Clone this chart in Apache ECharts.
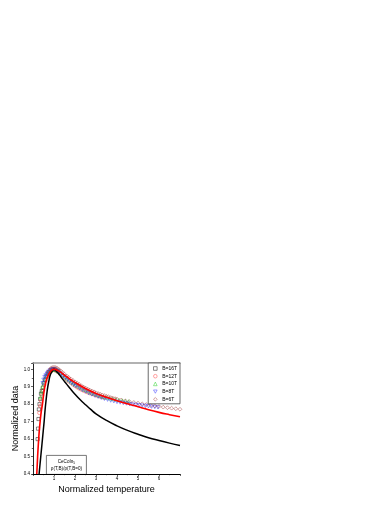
<!DOCTYPE html>
<html><head><meta charset="utf-8">
<script src="https://cdn.jsdelivr.net/npm/echarts@6/dist/echarts.min.js"></script>
<style>html,body{margin:0;padding:0;background:#fff}#c{width:390px;height:505px}</style>
</head><body><div id="c"></div>
<script>
var seriesNames = ['B=16T','B=12T','B=10T','B=8T','B=6T'];
var xTickLabels = ['1','2','3','4','5','6'];
var yTickLabels = ['0.4','0.5','0.6','0.7','0.8','0.9','1.0'];

var b16 = [[0.22,0.60],[0.24,0.66],[0.26,0.715],[0.28,0.77],[0.31,0.80],[0.34,0.83],[0.38,0.86],[0.42,0.875],[0.47,0.895],[0.52,0.92],[0.58,0.94],[0.64,0.96],[0.71,0.975],[0.78,0.985],[0.86,0.995],[0.94,1.0],[1.02,1.0],[1.1,0.995],[1.2,0.99]];
var b12 = [[0.30,0.75],[0.34,0.79],[0.38,0.82],[0.43,0.85],[0.48,0.88],[0.54,0.91],[0.60,0.935],[0.67,0.955],[0.74,0.97],[0.82,0.985],[0.90,0.993],[0.98,0.997],[1.06,0.995],[1.14,0.99],[1.22,0.982],[1.30,0.973],[1.40,0.962],[1.50,0.952],[1.60,0.942],[1.70,0.932],[1.80,0.922],[1.90,0.913],[2.0,0.905],[2.1,0.897],[2.2,0.89],[2.3,0.884],[2.4,0.878],[2.5,0.873],[2.6,0.868],[2.7,0.863],[2.8,0.859],[2.9,0.855],[3.0,0.851],[3.1,0.847],[3.2,0.844],[3.3,0.84],[3.4,0.837]];
var b10 = [[0.36,0.84],[0.40,0.87],[0.45,0.90],[0.50,0.925],[0.56,0.945],[0.62,0.96],[0.69,0.975],[0.76,0.985],[0.84,0.993],[0.92,0.998],[1.0,1.0],[1.1,0.995],[1.2,0.987],[1.3,0.978],[1.4,0.968],[1.5,0.958],[1.6,0.948],[1.7,0.939],[1.8,0.93],[1.9,0.921],[2.0,0.913],[2.15,0.902],[2.3,0.892],[2.45,0.883],[2.6,0.875],[2.75,0.867],[2.9,0.86],[3.05,0.853],[3.2,0.847],[3.35,0.842],[3.5,0.838],[3.65,0.834],[3.8,0.83],[3.95,0.827],[4.1,0.824],[4.25,0.821],[4.4,0.818],[4.55,0.816]];
var b8 = [[0.46,0.92],[0.50,0.94],[0.55,0.955],[0.60,0.965],[0.66,0.975],[0.72,0.985],[0.80,0.993],[0.88,0.998],[0.96,1.0],[1.05,0.998],[1.15,0.99],[1.25,0.98],[1.35,0.97],[1.45,0.96],[1.55,0.95],[1.65,0.94],[1.75,0.93],[1.85,0.921],[1.95,0.912],[2.05,0.904],[2.2,0.893],[2.35,0.882],[2.5,0.873],[2.65,0.864],[2.8,0.856],[2.95,0.849],[3.1,0.843],[3.25,0.837],[3.4,0.831],[3.55,0.826],[3.7,0.821],[3.85,0.817],[4.0,0.813],[4.15,0.81],[4.3,0.807],[4.45,0.804],[4.6,0.801],[4.75,0.798],[4.9,0.796],[5.05,0.794],[5.2,0.792],[5.35,0.79],[5.5,0.788],[5.65,0.786],[5.8,0.784],[5.95,0.782]];
var b6 = [[0.72,0.985],[0.78,0.995],[0.85,1.005],[0.92,1.01],[1.0,1.012],[1.08,1.01],[1.16,1.005],[1.24,0.998],[1.32,0.99],[1.4,0.982],[1.5,0.972],[1.6,0.962],[1.7,0.953],[1.8,0.944],[1.9,0.936],[2.0,0.928],[2.1,0.92],[2.2,0.913],[2.3,0.906],[2.4,0.899],[2.5,0.893],[2.6,0.887],[2.7,0.881],[2.8,0.876],[2.9,0.871],[3.0,0.866],[3.1,0.861],[3.2,0.857],[3.3,0.853],[3.4,0.849],[3.5,0.845],[3.6,0.842],[3.7,0.838],[3.8,0.835],[3.9,0.832],[4.0,0.829],[4.2,0.824],[4.4,0.819],[4.6,0.814],[4.8,0.81],[5.0,0.806],[5.2,0.802],[5.4,0.798],[5.6,0.794],[5.8,0.79],[6.0,0.787],[6.2,0.783],[6.4,0.78],[6.6,0.777],[6.8,0.774],[7.0,0.771]];
var blackCurve = [[0.29,0.40],[0.33,0.45],[0.37,0.50],[0.41,0.55],[0.45,0.60],[0.49,0.65],[0.53,0.70],[0.57,0.76],[0.62,0.82],[0.68,0.88],[0.75,0.93],[0.83,0.97],[0.92,0.99],[1.0,1.0],[1.1,0.99],[1.25,0.97],[1.4,0.945],[1.6,0.915],[1.8,0.885],[2.0,0.857],[2.25,0.825],[2.5,0.797],[2.75,0.77],[3.0,0.745],[3.5,0.707],[4.0,0.676],[4.5,0.65],[5.0,0.628],[5.5,0.608],[6.0,0.592],[6.5,0.577],[7.0,0.563]];
var redCurve = [[0.18,0.40],[0.22,0.50],[0.26,0.58],[0.30,0.65],[0.34,0.70],[0.39,0.755],[0.45,0.80],[0.50,0.85],[0.55,0.89],[0.62,0.93],[0.70,0.96],[0.80,0.982],[0.90,0.995],[1.0,1.0],[1.15,0.995],[1.3,0.985],[1.5,0.967],[1.75,0.945],[2.0,0.925],[2.5,0.89],[3.0,0.862],[3.5,0.84],[4.0,0.82],[4.5,0.802],[5.0,0.785],[5.5,0.768],[6.0,0.753],[6.5,0.74],[7.0,0.728]];

var colors = ['#000000','#FF4040','#20D020','#3030FF','#A03838'];
var symbols = ['rect','circle','triangle','path://M0,0 L10,0 L5,9 Z','diamond'];
var sizes = [3.2,3.4,3.4,3.4,3.8];
var datasets = [b16,b12,b10,b8,b6];

var series = datasets.map(function(d,i){
  return {name: seriesNames[i], type:'scatter', data:d, symbol:symbols[i],
    symbolSize: sizes[i], itemStyle:{color:'rgba(255,255,255,0)', borderColor:colors[i], borderWidth:0.6}, z:2, silent:true};
});
series.push({name:'fitBlack', type:'line', data:blackCurve, smooth:true, symbol:'none', lineStyle:{color:'#000', width:1.5}, z:5});
series.push({name:'fitRed', type:'line', data:redCurve, smooth:true, symbol:'none', lineStyle:{color:'#FF0000', width:1.6}, z:6});

var chart = echarts.init(document.getElementById('c'), null, {renderer:'canvas'});
chart.setOption({
  animation:false,
  backgroundColor:'#fff',
  grid:{left:33, right:210, top:363, bottom:31, show:false},
  legend:{
    data: seriesNames.map(function(n,i){return {name:n, itemStyle:{color:'rgba(255,255,255,0)', borderColor:colors[i], borderWidth:0.6}};}),
    orient:'vertical', right:210, top:363, itemWidth:3.6, itemHeight:3.6, itemGap:2.7,
    padding:[3,3,2,5], borderColor:'#444', borderWidth:0.8, backgroundColor:'#fff',
    textStyle:{fontSize:5, fontFamily:'Liberation Sans, Arial', color:'#000', padding:[0,0,0,0]},
    selectedMode:false
  },
  xAxis:[{
    type:'value', min:0, max:7, interval:1,
    name:'Normalized temperature', nameLocation:'middle', nameGap:11,
    nameTextStyle:{fontSize:9, fontFamily:'Liberation Sans, Arial', color:'#000'},
    axisLine:{lineStyle:{color:'#000', width:1}},
    axisTick:{length:2, lineStyle:{color:'#000', width:0.6}},
    minorTick:{show:true, splitNumber:2, length:1.2, lineStyle:{color:'#000', width:0.6}},
    axisLabel:{fontSize:4.5, margin:2.5, color:'#000', fontFamily:'Liberation Sans, Arial',
      formatter:function(v){var s=String(Math.round(v)); return xTickLabels.indexOf(s)>=0 && Math.abs(v-Math.round(v))<1e-6 ? s : '';}},
    splitLine:{show:false}
  },{
    type:'value', min:0, max:7, position:'top',
    axisLine:{show:true, lineStyle:{color:'#999', width:1.6}}, axisTick:{show:false}, axisLabel:{show:false}, splitLine:{show:false}
  }],
  yAxis:[{
    type:'value', min:0.4, max:1.036, interval:0.1,
    name:'Normalized data', nameLocation:'middle', nameGap:13,
    nameTextStyle:{fontSize:9, fontFamily:'Liberation Sans, Arial', color:'#000'},
    axisLine:{show:true, lineStyle:{color:'#000', width:1}},
    axisTick:{show:true, length:2, lineStyle:{color:'#000', width:0.6}},
    minorTick:{show:true, splitNumber:2, length:1.2, lineStyle:{color:'#000', width:0.6}},
    axisLabel:{fontSize:4.5, margin:3, color:'#000', fontFamily:'Liberation Sans, Arial',
      formatter:function(v){var s=v.toFixed(1); return (Math.abs(v*10-Math.round(v*10))<1e-6 && yTickLabels.indexOf(s)>=0) ? s : '';}},
    splitLine:{show:false}
  },{
    type:'value', min:0.4, max:1.036, position:'right',
    axisLine:{show:true, lineStyle:{color:'#222', width:1}}, axisTick:{show:false}, axisLabel:{show:false}, splitLine:{show:false}
  }],
  series: series,
  graphic:[{
    type:'group', left:46, top:455, children:[
      {type:'rect', shape:{x:0,y:0,width:40,height:19}, style:{fill:'#fff', stroke:'#555', lineWidth:0.8}},
      {type:'text', x:20, y:6, style:{text:'{a|CeCoIn}{s|5}', align:'center', verticalAlign:'middle',
        rich:{a:{fontSize:4.6, fontFamily:'Liberation Sans, Arial', fill:'#000'}, s:{fontSize:3.2, fontFamily:'Liberation Sans, Arial', fill:'#000', verticalAlign:'bottom', padding:[3,0,0,0]}}}},
      {type:'text', x:20, y:13.5, style:{text:'ρ(T,B)/ρ(T,B=0)', align:'center', verticalAlign:'middle', fontSize:4.6, fontFamily:'Liberation Sans, Arial', fill:'#000'}}
    ]
  }]
});
</script></body></html>
